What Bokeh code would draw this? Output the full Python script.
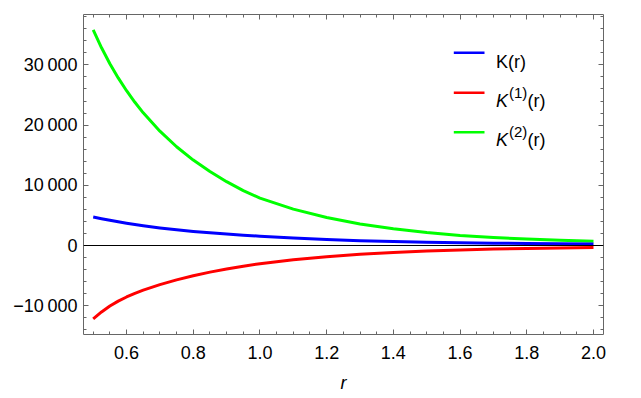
from bokeh.plotting import figure
from bokeh.models import (Range1d, FixedTicker, LinearAxis, Span, Label, BoxAnnotation,
                          CustomLabelingPolicy)
from bokeh.embed import file_html
from bokeh.resources import INLINE

# values
r_vals = [0.5, 0.525, 0.55, 0.575, 0.6, 0.625, 0.65, 0.7, 0.75, 0.8, 0.85, 0.9, 0.95, 1.0,
          1.1, 1.2, 1.3, 1.4, 1.5, 1.6, 1.7, 1.8, 1.9, 2.0]
k0_vals = [4720, 4450, 4180, 3930, 3690, 3480, 3280, 2920, 2620, 2340, 2110, 1900, 1710, 1540,
           1250, 980, 790, 650, 535, 450, 385, 330, 290, 255]
k1_vals = [-12200, -11040, -10060, -9240, -8550, -7950, -7420, -6500, -5710, -5020, -4420, -3895,
           -3430, -3025, -2370, -1850, -1450, -1150, -907, -736, -596, -487, -403, -333]
k2_vals = [35800, 32840, 30200, 27840, 25710, 23790, 22040, 18990, 16400, 14190, 12290, 10600,
           9125, 7870, 6040, 4640, 3580, 2770, 2150, 1680, 1335, 1070, 865, 710]

x_major = [0.6, 0.8, 1.0, 1.2, 1.4, 1.6, 1.8, 2.0]
x_labels = {0.6: "0.6", 0.8: "0.8", 1.0: "1.0", 1.2: "1.2", 1.4: "1.4", 1.6: "1.6",
            1.8: "1.8", 2.0: "2.0"}
x_minor = [0.5, 0.55, 0.65, 0.7, 0.75, 0.85, 0.9, 0.95, 1.05, 1.1, 1.15, 1.25, 1.3, 1.35,
           1.45, 1.5, 1.55, 1.65, 1.7, 1.75, 1.85, 1.9, 1.95]
y_major = [-10000, 0, 10000, 20000, 30000]
y_labels = {-10000: "\u221210\u2009000", 0: "0", 10000: "10\u2009000",
            20000: "20\u2009000", 30000: "30\u2009000"}
y_minor = [-14000, -12000, -8000, -6000, -4000, -2000, 2000, 4000, 6000, 8000,
           12000, 14000, 16000, 18000, 22000, 24000, 26000, 28000, 32000, 34000, 36000, 38000]

FONT = "Liberation Sans"
FRAME = "#666666"
BLUE, RED, GREEN = "#0000ff", "#ff0000", "#00ff00"

p = figure(width=633, height=396, output_backend="svg", toolbar_location=None,
           x_range=Range1d(0.4709, 2.030), y_range=Range1d(-14784, 38372),
           min_border_left=83, min_border_right=30, min_border_top=14, min_border_bottom=62)
p.outline_line_color = None
p.xgrid.visible = False
p.ygrid.visible = False
p.background_fill_color = "white"
p.border_fill_color = "white"

xt = FixedTicker(ticks=x_major, minor_ticks=x_minor)
yt = FixedTicker(ticks=y_major, minor_ticks=y_minor)
hide_all = CustomLabelingPolicy(code="for (const i of indices) { indices.unset(i) }\nreturn indices")

def style(ax, labels=True):
    ax.axis_line_color = FRAME
    ax.major_tick_line_color = FRAME
    ax.minor_tick_line_color = FRAME
    ax.major_tick_in = 5
    ax.major_tick_out = 0
    ax.minor_tick_in = 3
    ax.minor_tick_out = 0
    ax.major_label_text_font = FONT
    ax.major_label_text_color = "black"
    if labels:
        ax.major_label_text_font_size = "18px"
    else:
        ax.major_label_text_font_size = "1px"
        ax.major_label_standoff = 0
        ax.major_label_policy = hide_all

p.xaxis.ticker = xt
p.yaxis.ticker = yt
style(p.xaxis[0])
style(p.yaxis[0])
p.xaxis.major_label_standoff = 11
p.yaxis.major_label_standoff = 6
p.xaxis.major_label_overrides = x_labels
p.yaxis.major_label_overrides = y_labels
p.xaxis.axis_label = "r"
p.xaxis.axis_label_text_font = FONT
p.xaxis.axis_label_text_font_style = "italic"
p.xaxis.axis_label_text_font_size = "18px"
p.xaxis.axis_label_standoff = 11
p.xaxis.axis_label_text_color = "black"

top = LinearAxis(ticker=xt)
style(top, labels=False)
p.add_layout(top, "above")
right = LinearAxis(ticker=yt)
style(right, labels=False)
p.add_layout(right, "right")

p.add_layout(Span(location=0, dimension="width", line_color="black", line_width=1))

for ys, col in ((k2_vals, GREEN), (k0_vals, BLUE), (k1_vals, RED)):
    p.line(r_vals, ys, line_color=col, line_width=3, line_join="round")

# legend (screen units relative to the frame's bottom-left corner)
rows = [(BLUE, 281.7, 273.0, None), (RED, 241.7, 234.0, "(1)"), (GREEN, 202.3, 194.6, "(2)")]
for col, yc, base, sup in rows:
    p.add_layout(BoxAnnotation(left=370.3, right=401.0, bottom=yc - 1.25, top=yc + 1.25,
                               left_units="screen", right_units="screen",
                               top_units="screen", bottom_units="screen",
                               fill_color=col, fill_alpha=1.0, line_color=None))
    if sup is None:
        p.add_layout(Label(x=412.5, y=base, x_units="screen", y_units="screen", text="K(r)",
                           text_font=FONT, text_font_size="18px", text_color="black",
                           text_baseline="alphabetic"))
    else:
        p.add_layout(Label(x=412.5, y=base, x_units="screen", y_units="screen", text="K",
                           text_font=FONT, text_font_size="18px", text_font_style="italic",
                           text_color="black", text_baseline="alphabetic"))
        p.add_layout(Label(x=425.5, y=base + 8, x_units="screen", y_units="screen", text=sup,
                           text_font=FONT, text_font_size="15px", text_color="black",
                           text_baseline="alphabetic"))
        p.add_layout(Label(x=444.0, y=base, x_units="screen", y_units="screen", text="(r)",
                           text_font=FONT, text_font_size="18px", text_color="black",
                           text_baseline="alphabetic"))

open("out.html", "w").write(file_html(p, INLINE))
